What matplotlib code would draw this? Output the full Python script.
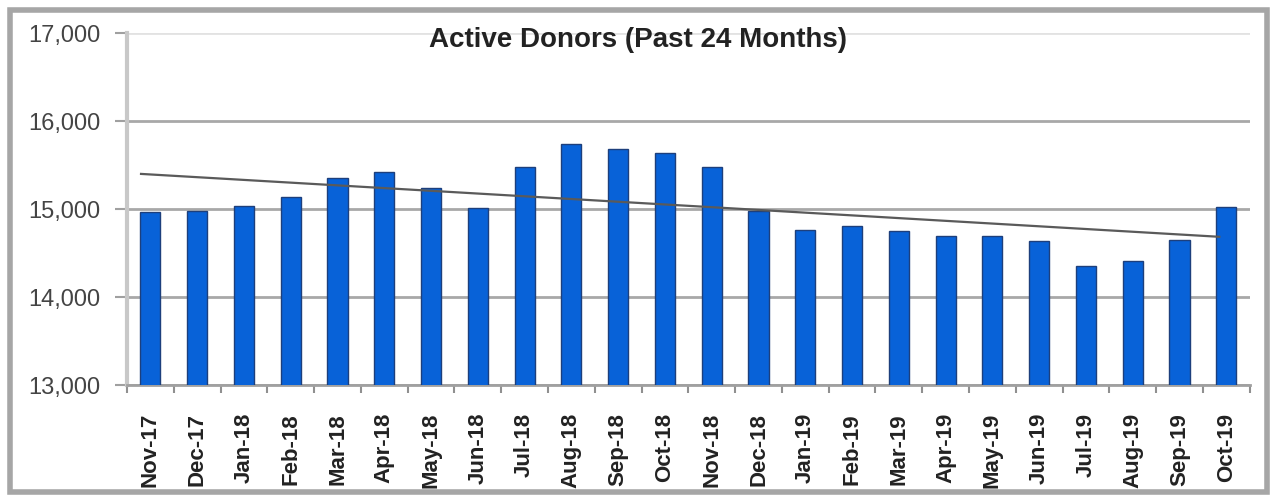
import numpy as np
import matplotlib
import matplotlib.pyplot as plt
from matplotlib.patches import Rectangle

matplotlib.use('Agg')
plt.rcParams['font.family'] = ['Liberation Sans', 'DejaVu Sans']

months = ['Nov-17', 'Dec-17', 'Jan-18', 'Feb-18', 'Mar-18', 'Apr-18', 'May-18', 'Jun-18',
          'Jul-18', 'Aug-18', 'Sep-18', 'Oct-18', 'Nov-18', 'Dec-18', 'Jan-19', 'Feb-19',
          'Mar-19', 'Apr-19', 'May-19', 'Jun-19', 'Jul-19', 'Aug-19', 'Sep-19', 'Oct-19']
donors = [14970, 14980, 15030, 15140, 15350, 15420, 15240, 15015,
          15475, 15740, 15680, 15635, 15480, 14977, 14760, 14805,
          14750, 14690, 14690, 14640, 14355, 14410, 14645, 15025]
y_ticks = [13000, 14000, 15000, 16000, 17000]

fig = plt.figure(figsize=(12.7, 4.95), dpi=100)
ax = fig.add_axes([0.1, 0.222, 0.884, 0.711])

x = np.arange(len(months))
ax.bar(x, donors, width=0.43, color='#0862d8', edgecolor='#1d3f7c', linewidth=1, zorder=3)

# linear trend line
k, b = np.polyfit(x, donors, 1)
tx = np.array([-0.2, len(months) - 1.15])
ax.plot(tx, k * tx + b, color='#5a5a5a', linewidth=1.6, zorder=4)

ax.set_xlim(-0.5, len(months) - 0.5)
ax.set_ylim(13000, 17000)
ax.set_yticks(y_ticks)
ax.set_yticklabels([f'{v:,}' for v in y_ticks], fontsize=17, color='#444444')
ax.set_xticks(x)
ax.set_xticklabels(months, rotation=90, fontsize=16, fontweight='bold', color='#222222', va='top')
ax.set_xticks(np.arange(-0.5, len(months)), minor=True)
ax.tick_params(axis='x', which='major', length=0, pad=20)
ax.tick_params(axis='x', which='minor', length=6, color='#909090', width=1.5)
ax.tick_params(axis='y', length=9, color='#a0a0a0', width=1.5, pad=10)

ax.grid(axis='y', color='#a8a8a8', linewidth=2, zorder=0)
ax.get_ygridlines()[-1].set_color('#e2e2e2')
for s in ['top', 'right']:
    ax.spines[s].set_visible(False)
ax.spines['left'].set_color('#c8c8c8')
ax.spines['left'].set_linewidth(3)
ax.spines['bottom'].set_color('#a0a0a0')
ax.spines['bottom'].set_linewidth(2)

fig.text(638 / 1270, 1 - 40 / 495, 'Active Donors (Past 24 Months)', ha='center', va='center',
         fontsize=20, fontweight='bold', color='#222222')

# outer chart border
fig.patches.append(Rectangle((10 / 1270, 3 / 495), 1257 / 1270, 482 / 495, transform=fig.transFigure,
                             fill=False, edgecolor='#a6a6a6', linewidth=4))

fig.savefig('out.png', dpi=100)
